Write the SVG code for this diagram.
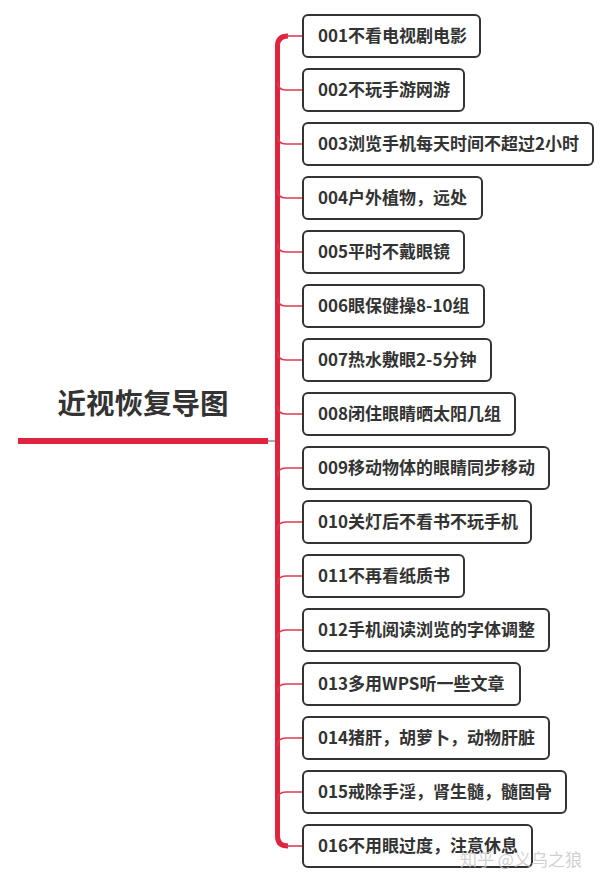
<svg xmlns="http://www.w3.org/2000/svg" width="610" height="884" viewBox="0 0 610 884">
<style>
.box{fill:#fff;stroke:#333;stroke-width:2}
.lbl{font-family:"Noto Sans CJK SC","Liberation Sans",sans-serif;font-weight:bold;font-size:17px;fill:#333}
.br{fill:none;stroke:#dd3a52;stroke-width:1.6}
.trunk{fill:none;stroke:#e0243e;stroke-width:5}
</style>
<rect width="610" height="884" fill="#fff"/>
<g id="connectors">
<line x1="18" y1="441" x2="268" y2="441" stroke="#e0243e" stroke-width="6"/>
<line x1="268" y1="441" x2="277" y2="441" stroke="#555" stroke-width="1"/>
<path class="trunk" d="M288,36 Q277.5,36 277.5,46 L277.5,836 Q277.5,846 288,846"/>
<path class="br" d="M286,36 L303,36"/>
<path class="br" d="M277.5,82 Q277.5,90 286,90 L303,90"/>
<path class="br" d="M277.5,136 Q277.5,144 286,144 L303,144"/>
<path class="br" d="M277.5,190 Q277.5,198 286,198 L303,198"/>
<path class="br" d="M277.5,244 Q277.5,252 286,252 L303,252"/>
<path class="br" d="M277.5,298 Q277.5,306 286,306 L303,306"/>
<path class="br" d="M277.5,352 Q277.5,360 286,360 L303,360"/>
<path class="br" d="M277.5,406 Q277.5,414 286,414 L303,414"/>
<path class="br" d="M277.5,476 Q277.5,468 286,468 L303,468"/>
<path class="br" d="M277.5,530 Q277.5,522 286,522 L303,522"/>
<path class="br" d="M277.5,584 Q277.5,576 286,576 L303,576"/>
<path class="br" d="M277.5,638 Q277.5,630 286,630 L303,630"/>
<path class="br" d="M277.5,692 Q277.5,684 286,684 L303,684"/>
<path class="br" d="M277.5,746 Q277.5,738 286,738 L303,738"/>
<path class="br" d="M277.5,800 Q277.5,792 286,792 L303,792"/>
<path class="br" d="M286,846 L303,846"/>
</g>
<g id="root">
<text x="143" y="414" text-anchor="middle" font-family="'Noto Sans CJK SC',sans-serif" font-weight="bold" font-size="28.5" fill="#333">近视恢复导图</text>
</g>
<g id="n01"><rect class="box" x="303" y="15" width="177" height="42" rx="5"/><text class="lbl" x="318" y="42">001不看电视剧电影</text></g>
<g id="n02"><rect class="box" x="303" y="69" width="161" height="42" rx="5"/><text class="lbl" x="318" y="96">002不玩手游网游</text></g>
<g id="n03"><rect class="box" x="303" y="123" width="290" height="42" rx="5"/><text class="lbl" x="318" y="150">003浏览手机每天时间不超过2小时</text></g>
<g id="n04"><rect class="box" x="303" y="177" width="179" height="42" rx="5"/><text class="lbl" x="318" y="204">004户外植物，远处</text></g>
<g id="n05"><rect class="box" x="303" y="231" width="161" height="42" rx="5"/><text class="lbl" x="318" y="258">005平时不戴眼镜</text></g>
<g id="n06"><rect class="box" x="303" y="285" width="181" height="42" rx="5"/><text class="lbl" x="318" y="312">006眼保健操8-10组</text></g>
<g id="n07"><rect class="box" x="303" y="339" width="188" height="42" rx="5"/><text class="lbl" x="318" y="366">007热水敷眼2-5分钟</text></g>
<g id="n08"><rect class="box" x="303" y="393" width="212" height="42" rx="5"/><text class="lbl" x="318" y="420">008闭住眼睛晒太阳几组</text></g>
<g id="n09"><rect class="box" x="303" y="447" width="246" height="42" rx="5"/><text class="lbl" x="318" y="474">009移动物体的眼睛同步移动</text></g>
<g id="n10"><rect class="box" x="303" y="501" width="228" height="42" rx="5"/><text class="lbl" x="318" y="528">010关灯后不看书不玩手机</text></g>
<g id="n11"><rect class="box" x="303" y="555" width="161" height="42" rx="5"/><text class="lbl" x="318" y="582">011不再看纸质书</text></g>
<g id="n12"><rect class="box" x="303" y="609" width="246" height="42" rx="5"/><text class="lbl" x="318" y="636">012手机阅读浏览的字体调整</text></g>
<g id="n13"><rect class="box" x="303" y="663" width="217" height="42" rx="5"/><text class="lbl" x="318" y="690">013多用WPS听一些文章</text></g>
<g id="n14"><rect class="box" x="303" y="717" width="246" height="42" rx="5"/><text class="lbl" x="318" y="744">014猪肝，胡萝卜，动物肝脏</text></g>
<g id="n15"><rect class="box" x="303" y="771" width="263" height="42" rx="5"/><text class="lbl" x="318" y="798">015戒除手淫，肾生髓，髓固骨</text></g>
<g id="n16"><rect class="box" x="303" y="825" width="229" height="42" rx="5"/><text class="lbl" x="318" y="852">016不用眼过度，注意休息</text></g>
<text x="460" y="866" font-family="'Noto Sans CJK SC',sans-serif" font-size="17" fill="#c8c8c8" fill-opacity="0.85">知乎 @义乌之狼</text>
</svg>
